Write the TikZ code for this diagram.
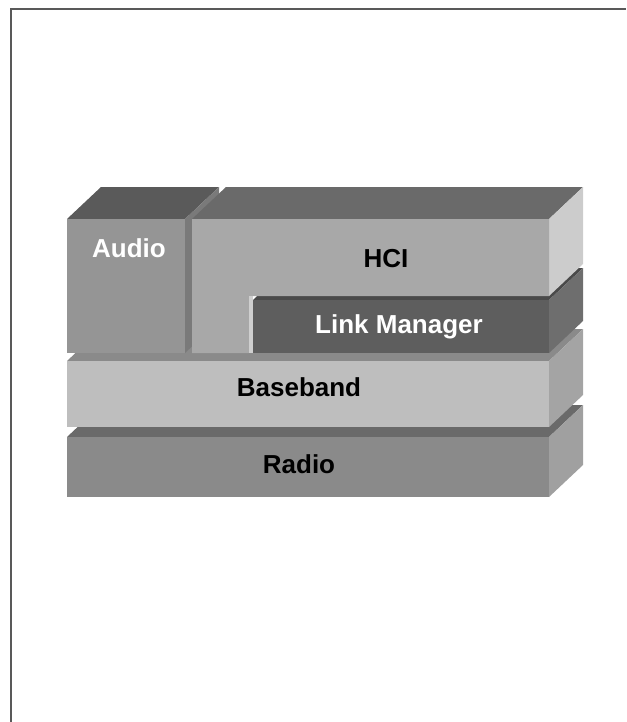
\documentclass[tikz,border=0pt]{standalone}
\usepackage{fontspec}
\setmainfont{Liberation Sans}
\begin{document}
\begin{tikzpicture}[x=1pt,y=-1pt,
  face/.style={draw=none},
  lbl/.style={font=\bfseries\fontsize{26}{26}\selectfont, inner sep=0pt},
  frameline/.style={draw=black!65, line width=1.6pt}]
\definecolor{audF}{HTML}{959595}\definecolor{audT}{HTML}{5A5A5A}\definecolor{audS}{HTML}{7A7A7A}
\definecolor{hciF}{HTML}{A8A8A8}\definecolor{hciT}{HTML}{6A6A6A}\definecolor{hciS}{HTML}{CCCCCC}
\definecolor{lmF}{HTML}{5E5E5E}\definecolor{lmT}{HTML}{4A4A4A}\definecolor{lmS}{HTML}{6E6E6E}
\definecolor{bbF}{HTML}{BEBEBE}\definecolor{bbT}{HTML}{8A8A8A}\definecolor{bbS}{HTML}{A4A4A4}
\definecolor{raF}{HTML}{8A8A8A}\definecolor{raT}{HTML}{6A6A6A}\definecolor{raS}{HTML}{A0A0A0}
\useasboundingbox (0,0) rectangle (626,722);
% frame
\coordinate (f1) at (11,722); \coordinate (f2) at (11,9); \coordinate (f3) at (626,9);
\draw[frameline] (f1) -- (f2) -- (f3);
% Radio
\fill[raT] (67,437) -- (549,437) -- (583,405) -- (101,405) -- cycle;
\fill[raS] (549,437) -- (583,405) -- (583,465) -- (549,497) -- cycle;
\fill[raF] (67,437) rectangle (549,497);
\node[lbl] (radio) at (299,464) {Radio};
% Baseband
\fill[bbT] (67,361) -- (549,361) -- (583,329) -- (101,329) -- cycle;
\fill[bbS] (549,361) -- (583,329) -- (583,395) -- (549,427) -- cycle;
\fill[bbF] (67,361) rectangle (549,427);
\node[lbl] (baseband) at (299,387) {Baseband};
% Audio
\fill[audT] (67,219) -- (185,219) -- (219,187) -- (101,187) -- cycle;
\fill[audS] (185,219) -- (219,187) -- (219,321) -- (185,353) -- cycle;
\fill[audF] (67,219) rectangle (185,353);
\node[lbl, text=white] (audio) at (129,248) {Audio};
% Link Manager
\fill[lmT] (253,300) -- (549,300) -- (583,268) -- (287,268) -- cycle;
\fill[lmS] (549,300) -- (583,268) -- (583,321) -- (549,353) -- cycle;
\fill[lmF] (253,300) rectangle (549,353);
\node[lbl, text=white] (lm) at (399,327) {Link Manager};
% HCI
\fill[hciT] (192,219) -- (549,219) -- (583,187) -- (226,187) -- cycle;
\fill[hciS] (549,219) -- (583,187) -- (583,264) -- (549,296) -- cycle;
\fill[hciF] (192,219) -- (549,219) -- (549,296) -- (249,296) -- (249,353) -- (192,353) -- cycle;
\fill[hciS!95!white] (249,296) -- (253,296) -- (253,353) -- (249,353) -- cycle;
\node[lbl] (hci) at (386,259) {HCI};
\end{tikzpicture}
\end{document}
